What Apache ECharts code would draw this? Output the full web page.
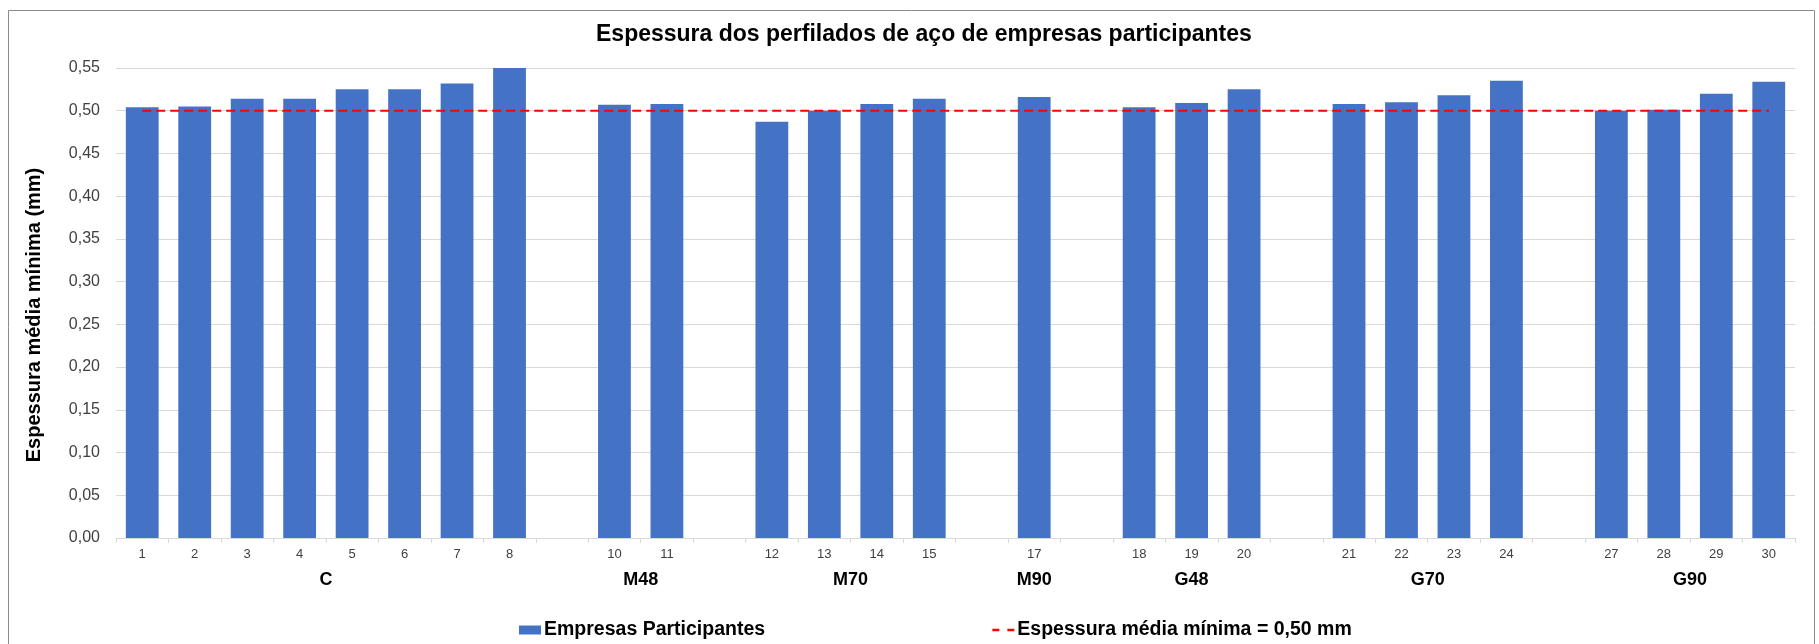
<!DOCTYPE html>
<html>
<head>
<meta charset="utf-8">
<title>Espessura dos perfilados de aço</title>
<script src="https://cdn.jsdelivr.net/npm/echarts@6/dist/echarts.min.js"></script>
<style>
  html, body { margin: 0; padding: 0; background: #fff; }
  #chart { width: 1819px; height: 644px; }
</style>
</head>
<body>
<div id="chart"></div>
<script>
// posições do eixo ('' = posição vazia, sem empresa)
const empresas = ['1', '2', '3', '4', '5', '6', '7', '8', '', '10', '11', '', '12', '13', '14', '15', '', '17', '', '18', '19', '20', '', '21', '22', '23', '24', '', '27', '28', '29', '30'];
const grupos = ['C', 'C', 'C', 'C', 'C', 'C', 'C', 'C', '', 'M48', 'M48', '', 'M70', 'M70', 'M70', 'M70', '', 'M90', '', 'G48', 'G48', 'G48', '', 'G70', 'G70', 'G70', 'G70', '', 'G90', 'G90', 'G90', 'G90'];
const espessura = [0.504, 0.505, 0.514, 0.514, 0.525, 0.525, 0.532, 0.550, null, 0.507, 0.508, null, 0.487, 0.500, 0.508, 0.514, null, 0.516, null, 0.504, 0.509, 0.525, null, 0.508, 0.510, 0.518, 0.535, null, 0.500, 0.501, 0.520, 0.534];
const minimo = [0.50, 0.50, 0.50, 0.50, 0.50, 0.50, 0.50, 0.50, 0.50, 0.50, 0.50, 0.50, 0.50, 0.50, 0.50, 0.50, 0.50, 0.50, 0.50, 0.50, 0.50, 0.50, 0.50, 0.50, 0.50, 0.50, 0.50, 0.50, 0.50, 0.50, 0.50, 0.50];
const yMin = 0;
const yMax = 0.55;
const yStep = 0.05;

const FONT = '"Liberation Sans", Arial, sans-serif';

// rótulos dos grupos: eixo auxiliar com meias-posições, nome no centro de cada grupo
const grupoLabels = new Array(grupos.length * 2 + 1).fill('');
let ini = 0;
for (let i = 1; i <= grupos.length; i++) {
  if (i === grupos.length || grupos[i] !== grupos[ini]) {
    if (grupos[ini]) grupoLabels[ini + i] = grupos[ini];
    ini = i;
  }
}

const chart = echarts.init(document.getElementById('chart'));

const option = {
  animation: false,
  textStyle: { fontFamily: FONT },
  title: {
    text: 'Espessura dos perfilados de aço de empresas participantes',
    left: 591,
    top: 18,
    textStyle: { fontFamily: FONT, fontSize: 23, fontWeight: 'bold', color: '#000' }
  },
  graphic: [
    {
      type: 'rect',
      shape: { x: 8.5, y: 10.5, width: 1806, height: 660 },
      style: { fill: 'none', stroke: '#8C8C8C', lineWidth: 1 },
      silent: true
    }
  ],
  legend: {
    left: 514,
    top: 615,
    itemGap: 226,
    itemWidth: 22,
    itemHeight: 9,
    textStyle: { fontFamily: FONT, fontSize: 19.5, fontWeight: 'bold', color: '#000', padding: [0, 0, 0, -2] },
    data: [
      { name: 'Empresas Participantes', icon: 'rect' },
      {
        name: 'Espessura média mínima = 0,50 mm',
        itemStyle: { opacity: 0 },
        lineStyle: { type: [7, 8], width: 2.5 }
      }
    ]
  },
  grid: {
    left: 116,
    right: 24,
    top: 68,
    bottom: 106,
    containLabel: false,
    outerBoundsMode: 'none'
  },
  xAxis: [
    {
      type: 'category',
      data: empresas,
      boundaryGap: true,
      axisLine: { show: true, lineStyle: { color: '#D9D9D9', width: 1 } },
      axisTick: { show: true, length: 5, lineStyle: { color: '#D9D9D9' } },
      axisLabel: { interval: 0, margin: 10, fontFamily: FONT, fontSize: 13, color: '#404040' },
      splitLine: { show: false }
    },
    {
      type: 'category',
      position: 'bottom',
      data: grupoLabels,
      boundaryGap: false,
      axisLine: { show: false },
      axisTick: { show: false },
      axisLabel: { interval: 0, margin: 33, fontFamily: FONT, fontSize: 18, fontWeight: 'bold', color: '#000' },
      splitLine: { show: false }
    }
  ],
  yAxis: {
    type: 'value',
    min: yMin,
    max: yMax,
    interval: yStep,
    name: 'Espessura média mínima (mm)',
    nameLocation: 'middle',
    nameGap: 72,
    nameTextStyle: { fontFamily: FONT, fontSize: 20, fontWeight: 'bold', color: '#000', padding: [0, 24, 0, 0] },
    axisLine: { show: false },
    axisTick: { show: false },
    axisLabel: {
      margin: 16,
      fontFamily: FONT,
      fontSize: 16,
      color: '#404040',
      formatter: v => v.toFixed(2).replace('.', ',')
    },
    splitLine: { show: true, lineStyle: { color: '#D9D9D9', width: 1 } }
  },
  series: [
    {
      name: 'Empresas Participantes',
      type: 'bar',
      xAxisIndex: 0,
      data: espessura,
      barCategoryGap: '37.5%',
      itemStyle: { color: '#4472C4' }
    },
    {
      name: 'Espessura média mínima = 0,50 mm',
      type: 'line',
      xAxisIndex: 0,
      data: minimo,
      symbol: 'none',
      lineStyle: { color: '#FF0000', width: 2, type: [9, 5] },
      z: 5
    }
  ]
};

chart.setOption(option);
</script>
</body>
</html>
